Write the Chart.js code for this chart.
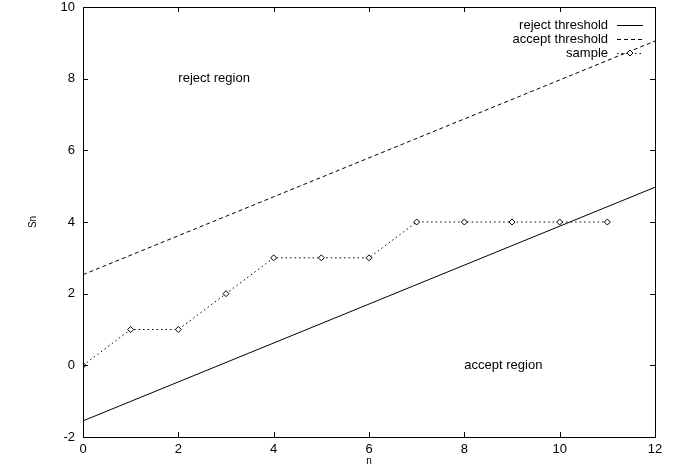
<!DOCTYPE html>
<html>
<head>
<meta charset="utf-8">
<script src="https://cdn.jsdelivr.net/npm/chart.js@4"></script>
<style>
  html, body { margin: 0; padding: 0; background: #fff; }
  #wrap { width: 678px; height: 467px; }
</style>
</head>
<body>
<div id="wrap"><canvas id="sprtCanvas" width="678" height="467"></canvas></div>
<script>
// data
var nValues = [0, 1, 2, 3, 4, 5, 6, 7, 8, 9, 10, 11];
var sampleSn = [0, 1, 1, 2, 3, 3, 3, 4, 4, 4, 4, 4];
var thresholdN = [0, 12];
var rejectThreshold = [-1.55, 4.97];
var acceptThreshold = [2.53, 9.05];
var xTicks = [0, 2, 4, 6, 8, 10, 12];
var yTicks = [-2, 0, 2, 4, 6, 8, 10];
var regionLabels = [
    { text: "reject region", x: 2, y: 8 },
    { text: "accept region", x: 8, y: 0 }
];

var FONT = "'Liberation Sans', Arial, sans-serif";

function toPoints(xs, ys) {
    return xs.map(function (x, i) { return { x: x, y: ys[i] }; });
}

// gnuplot style frame: box, inward ticks on all sides, labels, key
var gnuplotDecor = {
    id: "gnuplotDecor",
    afterDatasetsDraw: function (chart) {
        var ctx = chart.ctx;
        var a = chart.chartArea;
        var xs = chart.scales.x, ys = chart.scales.y;
        ctx.save();
        ctx.strokeStyle = "#000";
        ctx.lineWidth = 1;
        ctx.setLineDash([]);
        ctx.strokeRect(Math.round(a.left) + 0.5, Math.round(a.top) + 0.5,
            Math.round(a.right - a.left), Math.round(a.bottom - a.top));

        var tl = 5;
        ctx.beginPath();
        xTicks.forEach(function (v) {
            var px = Math.round(xs.getPixelForValue(v)) + 0.5;
            ctx.moveTo(px, a.bottom); ctx.lineTo(px, a.bottom - tl);
            ctx.moveTo(px, a.top); ctx.lineTo(px, a.top + tl);
        });
        yTicks.forEach(function (v) {
            var py = Math.round(ys.getPixelForValue(v)) + 0.5;
            ctx.moveTo(a.left, py); ctx.lineTo(a.left + tl, py);
            ctx.moveTo(a.right, py); ctx.lineTo(a.right - tl, py);
        });
        ctx.stroke();

        ctx.fillStyle = "#000";
        ctx.font = "13px " + FONT;
        ctx.textBaseline = "middle";
        ctx.textAlign = "left";
        regionLabels.forEach(function (l) {
            ctx.fillText(l.text, xs.getPixelForValue(l.x), ys.getPixelForValue(l.y));
        });

        // key, top right
        var textRight = a.right - 47;
        var x0 = a.right - 38, x1 = a.right - 12;
        chart.data.datasets.forEach(function (ds, i) {
            var y = a.top + 18 + i * 14;
            ctx.textAlign = "right";
            ctx.fillStyle = "#000";
            ctx.fillText(ds.label, textRight, y);
            ctx.beginPath();
            ctx.setLineDash(ds.borderDash || []);
            ctx.strokeStyle = ds.borderColor;
            ctx.lineWidth = ds.borderWidth;
            ctx.moveTo(x0, y + 0.5); ctx.lineTo(x1, y + 0.5);
            ctx.stroke();
            ctx.setLineDash([]);
            if (ds.pointRadius > 0) {
                var cx = (x0 + x1) / 2, r = ds.pointRadius;
                ctx.beginPath();
                ctx.moveTo(cx, y - r); ctx.lineTo(cx + r, y);
                ctx.lineTo(cx, y + r); ctx.lineTo(cx - r, y);
                ctx.closePath();
                ctx.fillStyle = "#fff";
                ctx.fill();
                ctx.strokeStyle = "#000";
                ctx.lineWidth = 1;
                ctx.stroke();
            }
        });
        ctx.restore();
    }
};

var sprtCtx = document.getElementById("sprtCanvas").getContext("2d");
var sprtChart = new Chart(sprtCtx, {
    type: "line",
    data: {
        datasets: [{
            label: "reject threshold",
            data: toPoints(thresholdN, rejectThreshold),
            borderColor: "#000",
            borderWidth: 1,
            pointRadius: 0
        }, {
            label: "accept threshold",
            data: toPoints(thresholdN, acceptThreshold),
            borderColor: "#000",
            borderWidth: 1,
            borderDash: [4, 3],
            pointRadius: 0
        }, {
            label: "sample",
            data: toPoints(nValues, sampleSn),
            borderColor: "#000",
            borderWidth: 1,
            borderDash: [1.5, 3],
            pointStyle: "rectRot",
            pointRadius: 3,
            pointBackgroundColor: "#fff",
            pointBorderColor: "#000",
            pointBorderWidth: 1
        }]
    },
    options: {
        responsive: false,
        animation: false,
        layout: { padding: { top: 0, right: 23, left: 0, bottom: 0 } },
        plugins: {
            legend: { display: false },
            tooltip: { enabled: false }
        },
        scales: {
            x: {
                type: "linear",
                min: 0,
                max: 12,
                afterBuildTicks: function (s) { s.ticks = xTicks.map(function (v) { return { value: v }; }); },
                afterFit: function (s) { s.height = 30; },
                grid: { display: false, drawTicks: false },
                border: { display: false },
                ticks: { color: "#000", font: { family: FONT, size: 13 }, padding: 5, maxRotation: 0 },
                title: { display: true, text: "n", color: "#000", font: { family: FONT, size: 10 }, padding: 0 }
            },
            y: {
                type: "linear",
                min: -2,
                max: 10,
                afterBuildTicks: function (s) { s.ticks = yTicks.map(function (v) { return { value: v }; }); },
                afterFit: function (s) { s.width = 83; s.paddingTop = 7; s.paddingBottom = 0; },
                grid: { display: false, drawTicks: false },
                border: { display: false },
                ticks: { color: "#000", font: { family: FONT, size: 13 }, padding: 8 },
                title: { display: true, text: "Sn", color: "#000", font: { family: FONT, size: 10 }, padding: { top: 27, bottom: 0 } }
            }
        }
    },
    plugins: [gnuplotDecor]
});
</script>
</body>
</html>
